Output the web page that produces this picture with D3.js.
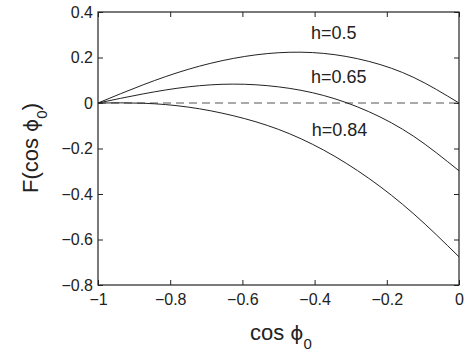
<!DOCTYPE html>
<html>
<head>
<meta charset="utf-8">
<script src="https://cdn.jsdelivr.net/npm/d3@7"></script>
<style>
  body { margin: 0; background: #fff; }
  svg text { font-family: "Liberation Sans", Arial, sans-serif; fill: #222; }
</style>
</head>
<body>
<div id="chart"></div>
<script>
// cos(phi0) sample positions
const cosPhi = [-1, -0.875, -0.75, -0.625, -0.5, -0.375, -0.25, -0.125, 0]

// F(cos phi0) for each h
const fH050 = [0, 0.08, 0.148, 0.196, 0.221, 0.218, 0.183, 0.112, 0]
const fH065 = [0, 0.04, 0.071, 0.083, 0.071, 0.033, -0.038, -0.147, -0.298]
const fH084 = [0, -0.001, -0.018, -0.056, -0.116, -0.207, -0.331, -0.488, -0.676]

const seriesNames = ['h=0.5', 'h=0.65', 'h=0.84']
const xTicks = [-1, -0.8, -0.6, -0.4, -0.2, 0]
const yTicks = [-0.8, -0.6, -0.4, -0.2, 0, 0.2, 0.4]

const width = 466
const height = 358
const margin = { top: 12, right: 7, bottom: 73, left: 98 }
const w = width - margin.left - margin.right
const h = height - margin.top - margin.bottom

const svg = d3
  .select('#chart')
  .append('svg')
  .attr('width', width)
  .attr('height', height)

const g = svg
  .append('g')
  .attr('transform', `translate(${margin.left},${margin.top})`)

const x = d3.scaleLinear().domain([-1, 0]).range([0, w])
const y = d3.scaleLinear().domain([-0.8, 0.4]).range([h, 0])

const fmt = d => (d === 0 ? '0' : String(d).replace('-', '\u2212'))

// axes with inward ticks (all four sides)
const axisStyle = sel => {
  sel.select('.domain').remove()
  sel.selectAll('line').attr('stroke', '#222')
  sel.selectAll('text').attr('font-size', 16).attr('fill', '#222')
}

g.append('g')
  .attr('transform', `translate(0,${h})`)
  .call(d3.axisBottom(x).tickValues(xTicks).tickFormat(fmt).tickSizeInner(-5).tickPadding(9))
  .call(axisStyle)

g.append('g')
  .call(d3.axisLeft(y).tickValues(yTicks).tickFormat(fmt).tickSizeInner(-5).tickPadding(5))
  .call(axisStyle)

g.append('g')
  .call(d3.axisTop(x).tickValues(xTicks).tickFormat('').tickSizeInner(-5))
  .call(axisStyle)

g.append('g')
  .attr('transform', `translate(${w},0)`)
  .call(d3.axisRight(y).tickValues(yTicks).tickFormat('').tickSizeInner(-5))
  .call(axisStyle)

// frame
g.append('rect')
  .attr('width', w)
  .attr('height', h)
  .attr('fill', 'none')
  .attr('stroke', '#222')
  .attr('stroke-width', 1.2)

// zero reference line
g.append('line')
  .attr('x1', x(-1))
  .attr('x2', x(0))
  .attr('y1', y(0))
  .attr('y2', y(0))
  .attr('stroke', '#555')
  .attr('stroke-width', 1)
  .attr('stroke-dasharray', '8,5')

// curves
const line = d3
  .line()
  .x((d, i) => x(cosPhi[i]))
  .y(d => y(d))
  .curve(d3.curveNatural)

g.selectAll('.curve')
  .data([fH050, fH065, fH084])
  .enter()
  .append('path')
  .attr('class', 'curve')
  .attr('d', line)
  .attr('fill', 'none')
  .attr('stroke', '#222')
  .attr('stroke-width', 1)

// curve labels
const labelPos = [
  [-0.41, 0.28],
  [-0.41, 0.088],
  [-0.408, -0.146],
]
g.selectAll('.lbl')
  .data(seriesNames)
  .enter()
  .append('text')
  .attr('class', 'lbl')
  .attr('x', (d, i) => x(labelPos[i][0]))
  .attr('y', (d, i) => y(labelPos[i][1]))
  .attr('font-size', 18)
  .text(d => d)

// axis titles
const xt = svg
  .append('text')
  .attr('x', 250)
  .attr('y', 340)
  .attr('font-size', 22)
xt.append('tspan').text('cos ')
xt.append('tspan').attr('font-family', 'DejaVu Sans').attr('font-size', 20).text('\u03d5')
xt.append('tspan').attr('font-size', 15).attr('dy', 9).text('0')

const yt = svg
  .append('text')
  .attr('transform', 'translate(38,148) rotate(-90)')
  .attr('text-anchor', 'middle')
  .attr('font-size', 22)
yt.append('tspan').text('F(cos ')
yt.append('tspan').attr('font-family', 'DejaVu Sans').attr('font-size', 20).text('\u03d5')
yt.append('tspan').attr('font-size', 15).attr('dy', 9).text('0')
yt.append('tspan').attr('dy', -9).text(')')
</script>
</body>
</html>
